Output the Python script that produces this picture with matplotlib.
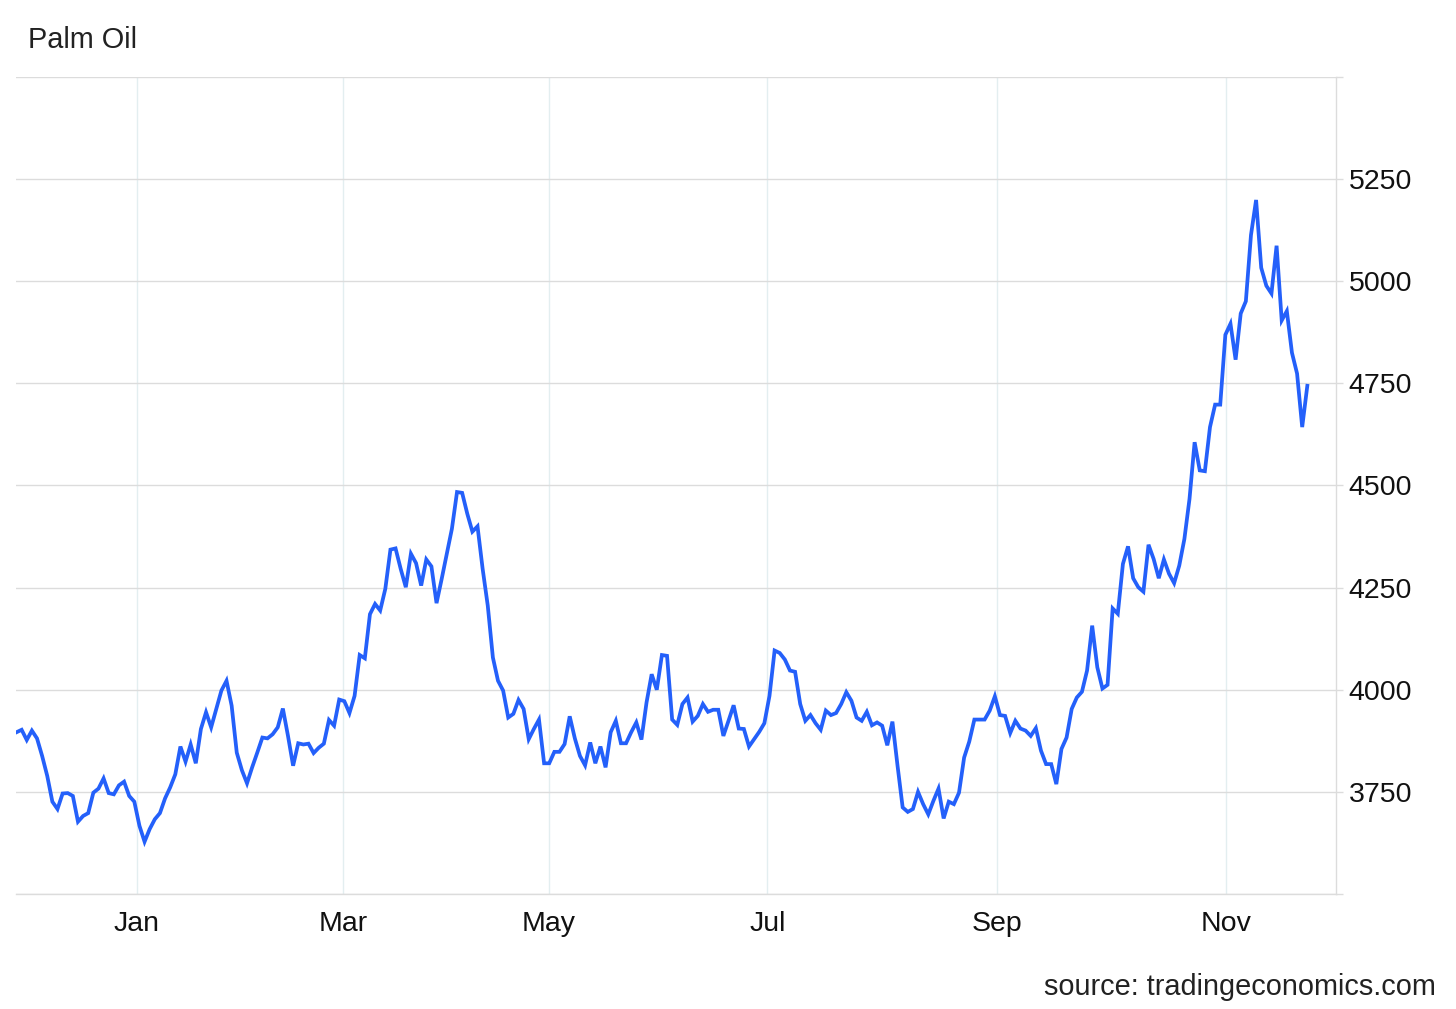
import matplotlib.pyplot as plt
import numpy as np

plt.rcParams['font.family'] = ['Liberation Sans', 'DejaVu Sans']

# daily closing prices (trading-day order)
prices = [
    3896, 3902, 3877, 3900, 3881, 3838, 3789, 3726, 3708, 3746,
    3747, 3740, 3677, 3691, 3698, 3748, 3758, 3783, 3747, 3744,
    3766, 3775, 3740, 3726, 3667, 3628, 3659, 3683, 3698, 3734,
    3761, 3793, 3861, 3824, 3866, 3820, 3904, 3945, 3908, 3953,
    3998, 4022, 3961, 3846, 3803, 3771,
    3810, 3846, 3883, 3881, 3891, 3908, 3954, 3887, 3814, 3869,
    3866, 3868, 3845, 3858, 3868, 3926, 3912, 3976, 3972, 3943,
    3985, 4085, 4077, 4185, 4210, 4194, 4247, 4343, 4346, 4296,
    4251, 4333, 4310, 4255, 4319, 4302, 4212, 4271, 4333, 4394,
    4484, 4482, 4431, 4387, 4400,
    4296, 4206, 4079, 4022, 3998, 3932, 3941, 3975, 3953, 3879,
    3904, 3927, 3820, 3820, 3848, 3848, 3867, 3935, 3881, 3838,
    3815, 3871, 3820, 3861, 3810, 3896, 3924, 3869, 3869, 3896,
    3920, 3878, 3969, 4038, 4000, 4085, 4083, 3927, 3914, 3965,
    3981, 3922, 3936, 3965, 3946, 3951, 3951,
    3887, 3924, 3962, 3905, 3904, 3861, 3879, 3897, 3918, 3985,
    4096, 4090, 4074, 4047, 4044, 3965, 3924, 3938, 3918, 3902,
    3949, 3938, 3943, 3965, 3994, 3973, 3932, 3924, 3946, 3913,
    3920, 3912, 3864, 3922, 3814, 3712, 3701, 3708, 3750, 3720,
    3695, 3728, 3758, 3685, 3726, 3720, 3748,
    3834, 3873, 3927, 3927, 3927, 3949, 3984, 3938, 3936, 3894,
    3924, 3905, 3900, 3887, 3906, 3851, 3818, 3818, 3769, 3855,
    3883, 3953, 3981, 3995, 4047, 4157, 4055, 4003, 4012, 4199,
    4186, 4308, 4351, 4273, 4251, 4240, 4355, 4320, 4273, 4319,
    4284, 4261, 4304,
    4369, 4467, 4606, 4537, 4535, 4643, 4698, 4698, 4869, 4896,
    4808, 4921, 4951, 5113, 5199, 5033, 4989, 4970, 5087, 4904,
    4927, 4825, 4774, 4643, 4744,
]
month_labels = ['Jan', 'Mar', 'May', 'Jul', 'Sep', 'Nov']
month_pos = [23.5, 63.7, 103.9, 146.6, 191.4, 236.1]
y_ticks = [3500, 3750, 4000, 4250, 4500, 4750, 5000, 5250, 5500]

W, H = 1456, 1009
fig = plt.figure(figsize=(W / 100, H / 100), dpi=100)
ax = fig.add_axes([16 / W, 1 - 894 / H, (1336 - 16) / W, (894 - 77) / H])

x = np.arange(len(prices))
ax.plot(x, prices, color='#2460fa', linewidth=2.7, solid_joinstyle='miter')

ax.set_xlim(-0.1, 257.6)
ax.set_ylim(3500, 5500)

ax.set_xticks(month_pos)
ax.set_xticklabels(month_labels)
ax.set_yticks(y_ticks)
ax.set_yticklabels(['' if v in (3500, 5500) else str(v) for v in y_ticks])

ax.yaxis.tick_right()
ax.tick_params(axis='y', length=5, width=1, color='#dcdcdc', pad=4,
               labelsize=20.5, labelcolor='#111111')
ax.tick_params(axis='x', length=0, pad=12, labelsize=20.5, labelcolor='#111111')

ax.grid(axis='y', color='#dcdcdc', linewidth=1)
ax.grid(axis='x', color='#e3eef0', linewidth=1)
ax.set_axisbelow(True)

for s in ['left', 'top']:
    ax.spines[s].set_visible(False)
for s in ['right', 'bottom']:
    ax.spines[s].set_color('#dcdcdc')
    ax.spines[s].set_linewidth(1)

fig.text(27.7 / W, 1 - 40 / H, 'Palm Oil', fontsize=20.8, color='#222222',
         ha='left', va='center')
fig.text(1436 / W, 1 - 987 / H, 'source: tradingeconomics.com', fontsize=20.8,
         color='#222222', ha='right', va='center')

fig.savefig('out.png', dpi=100)
